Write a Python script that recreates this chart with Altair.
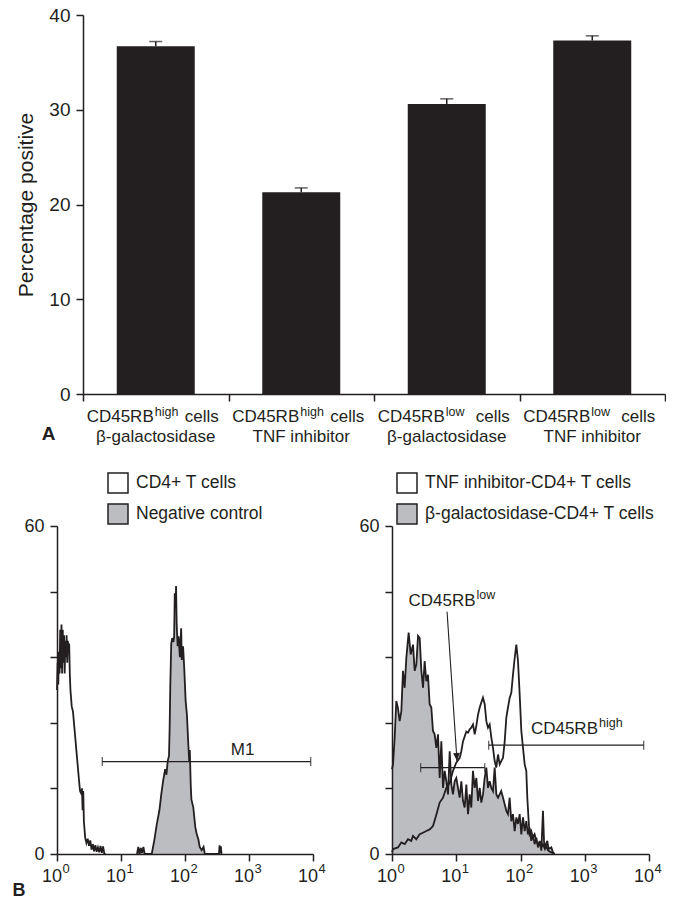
import altair as alt
import pandas as pd

FONT = "Liberation Sans"
INK = "#231f20"
GREY = "#bcbdc1"

# ---------------- Panel A data ----------------
cat_keys = ["hi_bgal", "hi_tnf", "lo_bgal", "lo_tnf"]
label_main = ["CD45RB", "CD45RB", "CD45RB", "CD45RB"]
label_sup = ["high", "high", "low", "low"]
label_tail = ["cells", "cells", "cells", "cells"]
label_treat = ["β-galactosidase", "TNF inhibitor", "β-galactosidase", "TNF inhibitor"]
pct_positive = [36.7, 21.3, 30.6, 37.3]
pct_sem = [0.5, 0.45, 0.55, 0.5]
a_ticks = [0, 10, 20, 30, 40]
a_title = "Percentage positive"

# ---------------- Panel B data ----------------
decades = [0, 1, 2, 3, 4]
dec_base = ["10", "10", "10", "10", "10"]
dec_exp = ["0", "1", "2", "3", "4"]
b_ticks = [0, 6, 12, 18, 24, 30, 36, 42, 48, 54, 60]

left_names = ["CD4+ T cells", "Negative control"]
left_white_x = [0.0, 0.01, 0.02, 0.03, 0.04, 0.05, 0.06, 0.07, 0.08, 0.09, 0.10, 0.11, 0.12,
                0.13, 0.14, 0.15, 0.16, 0.17, 0.18, 0.19, 0.20, 0.21, 0.23, 0.25, 0.28, 0.31,
                0.34, 0.36, 0.38, 0.39, 0.40, 0.41, 0.42, 0.44, 0.46, 0.48, 0.50, 0.52, 0.54,
                0.56, 0.58, 0.60, 0.62, 0.64, 0.66, 0.68, 0.70, 0.72, 0.74, 0.76]
left_white_y = [30, 35, 31, 37, 33, 41, 34, 42, 33, 41, 35, 40, 33,
                39, 36, 40, 35, 39, 37, 38.5, 33, 30, 27, 26, 22, 18,
                14, 11.5, 11, 12, 8, 11.5, 6, 3, 2, 2.8, 1.5, 2.5, 0.8,
                1.8, 0.5, 1.6, 0.4, 1.2, 0.3, 1.5, 0.2, 1.4, 0, 0]
left_grey_x = [1.25, 1.27, 1.29, 1.31, 1.33, 1.35, 1.37, 1.48, 1.52, 1.56, 1.60, 1.63, 1.66,
               1.69, 1.71, 1.73, 1.75, 1.76, 1.77, 1.785, 1.80, 1.82, 1.83, 1.84, 1.855, 1.86,
               1.87, 1.885, 1.90, 1.92, 1.94, 1.95, 1.97, 1.99, 2.01, 2.03, 2.05, 2.065, 2.075,
               2.09, 2.10, 2.13, 2.16, 2.18, 2.21, 2.23, 2.26, 2.29, 2.31, 2.53, 2.54, 2.55,
               2.56, 2.57]
left_grey_y = [0, 1.3, 0, 1.1, 0.2, 1.3, 0, 0, 2.5, 5.5, 8, 11, 13.5,
               15.5, 14.5, 17, 18, 23, 30.6, 38.5, 39.5, 38.8, 39.7, 47.7, 45, 49,
               42, 38, 39.8, 36, 41.3, 35.5, 38, 33.5, 28, 25.5, 20.5, 17, 19,
               12.5, 10, 8.5, 5, 3.8, 2.6, 1.3, 0.7, 1.3, 0, 0, 1.6, 0.2,
               1.4, 0]

right_names = ["TNF inhibitor-CD4+ T cells", "β-galactosidase-CD4+ T cells"]
right_white_x = [0.0, 0.016, 0.093, 0.145, 0.198, 0.249, 0.30, 0.327, 0.378, 0.431, 0.482, 0.534,
                 0.587, 0.638, 0.69, 0.742, 0.794, 0.845, 0.898, 0.949, 1.0, 1.054, 1.079, 1.105,
                 1.131, 1.157, 1.183, 1.209, 1.234, 1.261, 1.287, 1.312, 1.339, 1.365, 1.39, 1.416,
                 1.443, 1.468, 1.494, 1.52, 1.546, 1.572, 1.598, 1.623, 1.65, 1.676, 1.701, 1.728,
                 1.754, 1.779, 1.805, 1.832, 1.857, 1.883, 1.91, 1.935, 1.961, 1.987, 2.013, 2.039,
                 2.065, 2.09, 2.106, 2.127, 2.142, 2.168, 2.194, 2.22, 2.246, 2.272, 2.298, 2.324,
                 2.35, 2.38, 2.40, 2.43, 2.48, 2.53]
right_white_y = [0.3, 0.9, 1.2, 2.1, 1.8, 2.7, 2.4, 3.3, 2.7, 3.6, 3.9, 4.2,
                 4.5, 5.1, 7.2, 9.4, 10.3, 12.1, 13.0, 15.2, 16.7, 17.6, 18.8, 20.6,
                 21.5, 22.4, 22.2, 22.8, 23.1, 23.7, 21.9, 23.4, 25.5, 26.8, 27.7, 28.6,
                 27.4, 24.3, 23.1, 23.7, 21.3, 19.4, 17.0, 15.8, 18.2, 16.4, 17.0, 17.6,
                 20.6, 24.9, 26.8, 28.6, 29.5, 32.8, 35.9, 38.3, 35.3, 29.2, 22.5, 19.4,
                 16.4, 15.2, 10.3, 6.0, 3.6, 4.2, 3.0, 3.6, 2.4, 1.8, 2.1, 1.2,
                 1.8, 0.9, 1.5, 0.6, 0.3, 0]
right_grey_x = [0.0, 0.016, 0.041, 0.067, 0.093, 0.119, 0.145, 0.171, 0.197, 0.223, 0.259, 0.291,
                0.327, 0.353, 0.379, 0.405, 0.431, 0.457, 0.483, 0.508, 0.534, 0.56, 0.586, 0.612,
                0.638, 0.664, 0.69, 0.716, 0.742, 0.768, 0.794, 0.82, 0.846, 0.872, 0.898, 0.924,
                0.949, 0.975, 1.001, 1.027, 1.053, 1.079, 1.105, 1.131, 1.157, 1.183, 1.209, 1.234,
                1.26, 1.287, 1.313, 1.339, 1.365, 1.39, 1.416, 1.442, 1.468, 1.494, 1.52, 1.546,
                1.572, 1.598, 1.624, 1.65, 1.70, 1.728, 1.754, 1.78, 1.805, 1.831, 1.857, 1.883,
                1.909, 1.935, 1.961, 1.987, 2.013, 2.039, 2.065, 2.09, 2.116, 2.142, 2.168, 2.194,
                2.22, 2.246, 2.272, 2.298, 2.324, 2.35, 2.366, 2.386, 2.417, 2.438, 2.48, 2.505,
                2.531]
right_grey_y = [15.5, 16.4, 21.2, 28.0, 26.7, 24.3, 26.1, 33.5, 30.4, 35.9, 40.5, 36.5,
                38.3, 33.5, 34.7, 39.9, 39.5, 33.5, 30.4, 35.3, 31.6, 32.8, 27.4, 26.8,
                22.5, 21.9, 19.4, 21.9, 13.9, 20.6, 12.1, 15.2, 13.3, 10.9, 18.8, 12.7,
                10.9, 13.3, 13.9, 12.1, 10.3, 13.3, 9.7, 8.5, 12.7, 7.3, 10.9, 8.5,
                15.2, 12.1, 13.9, 9.7, 12.1, 9.4, 10.9, 13.9, 15.8, 12.1, 13.3, 12.1,
                11.5, 15.8, 10.9, 10.3, 11.5, 10.3, 9.1, 7.9, 7.3, 10.3, 6.0, 7.3,
                4.2, 6.7, 5.5, 7.3, 3.6, 6.7, 4.2, 6.0, 3.6, 4.8, 2.4, 3.6,
                1.8, 3.0, 1.2, 2.4, 0.6, 7.9, 2.4, 1.2, 2.4, 0.9, 1.2, 0.3,
                0]

# gates (log10 start, log10 end, height) and their labels
left_gate_x1 = [0.708]
left_gate_x2 = [3.964]
left_gate_y = [16.9]
left_gate_text = ["M1"]
left_gate_tx = [2.90]
left_gate_ty = [18.2]

right_gate_x1 = [0.446, 1.505]
right_gate_x2 = [1.443, 3.917]
right_gate_y = [15.8, 19.9]
right_lab_main = ["CD45RB", "CD45RB"]
right_lab_sup = ["low", "high"]
right_lab_x = [1.30, 3.206]
right_lab_y = [45.4, 21.9]
arrow_x1, arrow_y1, arrow_x2, arrow_y2 = [0.857], [44.3], [1.012], [17.0]

# ---------------- Panel A ----------------
dfA = pd.DataFrame({
    "cat": cat_keys, "main": label_main, "sup": label_sup, "tail": label_tail,
    "treat": label_treat, "value": pct_positive,
    "top": [v + e for v, e in zip(pct_positive, pct_sem)],
})

SHIFT = 26          # panel A is indented relative to panel B
A_W = 582
xA = alt.X("cat:N", sort=cat_keys, title=None,
           scale=alt.Scale(paddingInner=0, paddingOuter=0, range=[SHIFT, SHIFT + A_W]),
           axis=alt.Axis(labels=False, title=None, tickBand="extent", tickSize=7,
                         domainWidth=1.5, tickWidth=1.5))
axisYA = alt.Axis(values=a_ticks, tickSize=7, labelFontSize=19, labelPadding=6,
                  title=a_title, titleFontSize=21, titleFontWeight="normal", titlePadding=12,
                  domainWidth=1.5, tickWidth=1.5, offset=-SHIFT)
scaleYA = alt.Scale(domain=[0, 40], nice=False)


def YA(field):
    return alt.Y(field, type="quantitative", title=a_title, scale=scaleYA, axis=axisYA)


baseA = alt.Chart(dfA)
bars = baseA.mark_bar(color=INK, width={"band": 0.536}).encode(x=xA, y=YA("value"))
err = baseA.mark_rule(color=INK, strokeWidth=1.5).encode(x=xA, y=YA("value"), y2="top:Q")
cap = baseA.mark_tick(color=INK, thickness=1.5, size=13, orient="horizontal").encode(
    x=xA, y=YA("top"))
t_main = baseA.mark_text(align="right", baseline="alphabetic", dx=-2, dy=28, fontSize=17).encode(
    x=xA, y=alt.datum(0), text="main:N")
t_sup = baseA.mark_text(align="left", baseline="alphabetic", dx=-1, dy=22, fontSize=12.5).encode(
    x=xA, y=alt.datum(0), text="sup:N")
t_tail = baseA.mark_text(align="left", baseline="alphabetic", dx=29, dy=28, fontSize=17).encode(
    x=xA, y=alt.datum(0), text="tail:N")
t_treat = baseA.mark_text(align="center", baseline="alphabetic", dy=48, fontSize=17).encode(
    x=xA, y=alt.datum(0), text="treat:N")
t_A = alt.Chart(pd.DataFrame({"p": ["A"]})).mark_text(
    align="center", baseline="middle", fontSize=19, fontWeight="bold", dy=39.5).encode(
    x=alt.value(SHIFT - 34.5), y=alt.datum(0), text="p:N")

chartA = alt.layer(bars, err, cap, t_main, t_sup, t_tail, t_treat, t_A).properties(
    width=SHIFT + A_W, height=379)


# ---------------- Panel B ----------------
def X(field):
    return alt.X(field, type="quantitative", title=None,
                 scale=alt.Scale(domain=[0, 4], nice=False, zero=False),
                 axis=alt.Axis(values=decades, labels=False, tickSize=7, title=None,
                               domainWidth=1.5, tickWidth=1.5, zindex=1))


def Y(field):
    return alt.Y(field, type="quantitative", title=None, stack=None,
                 scale=alt.Scale(domain=[0, 60], nice=False),
                 axis=alt.Axis(values=b_ticks, tickSize=7, labelFontSize=18, labelPadding=6,
                               title=None, domainWidth=1.5, tickWidth=1.5, zindex=1,
                               labelExpr="datum.value % 30 === 0 ? datum.label : ''"))


def hist_panel(names, wx, wy, gx, gy, legend_x):
    dfw = pd.DataFrame({"lx": wx, "y": wy, "series": names[0]})
    dfg = pd.DataFrame({"lx": gx, "y": gy, "series": names[1]})
    df = pd.concat([dfw, dfg], ignore_index=True)
    a_white = alt.Chart(dfw).mark_area(color="white", opacity=1, interpolate="linear").encode(
        x=X("lx"), y=Y("y"))
    a_grey = alt.Chart(dfg).mark_area(color=GREY, opacity=1, interpolate="linear").encode(
        x=X("lx"), y=Y("y"))
    lines = alt.Chart(df).mark_line(color=INK, strokeWidth=1.8).encode(
        x=X("lx"), y=Y("y"), detail="series:N", order="lx:Q")
    # legend carrier: the swatches are drawn by the legend itself
    leg_df = pd.DataFrame({"series": names, "lx": [0, 0], "y": [0, 0]})
    leg = alt.Chart(leg_df).mark_square(size=1).encode(
        x=X("lx"), y=Y("y"),
        fill=alt.Fill("series:N",
                      scale=alt.Scale(domain=names, range=["white", GREY]),
                      legend=alt.Legend(title=None, orient="none", legendX=legend_x, legendY=-54,
                                        symbolType="square", symbolSize=400,
                                        symbolStrokeColor=INK, symbolStrokeWidth=1.5,
                                        symbolOpacity=1, labelFontSize=17.5, labelFont=FONT,
                                        labelColor=INK, labelOffset=7, rowPadding=5,
                                        padding=0, labelLimit=400)))
    dec = pd.DataFrame({"dec": decades, "base": dec_base, "exp": dec_exp})
    ten = alt.Chart(dec).mark_text(align="right", baseline="alphabetic", dx=5, dy=28,
                                   fontSize=18).encode(x=X("dec"), y=alt.datum(0), text="base:N")
    ex = alt.Chart(dec).mark_text(align="left", baseline="alphabetic", dx=5.5, dy=19,
                                  fontSize=13).encode(x=X("dec"), y=alt.datum(0), text="exp:N")
    return [leg, a_white, a_grey, lines, ten, ex]


def gate_layers(x1, x2, y):
    g = alt.Chart(pd.DataFrame({"x1": x1, "x2": x2, "y": y}))
    rule = g.mark_rule(color=INK, strokeWidth=1.3).encode(x=X("x1"), x2="x2:Q", y=Y("y"))
    c1 = g.mark_tick(color=INK, thickness=1.3, size=9, orient="vertical").encode(x=X("x1"), y=Y("y"))
    c2 = g.mark_tick(color=INK, thickness=1.3, size=9, orient="vertical").encode(x=X("x2"), y=Y("y"))
    return [rule, c1, c2]


# left panel
left_layers = hist_panel(left_names, left_white_x, left_white_y, left_grey_x, left_grey_y, 50)
left_layers += gate_layers(left_gate_x1, left_gate_x2, left_gate_y)
left_layers.append(alt.Chart(pd.DataFrame({"tx": left_gate_tx, "ty": left_gate_ty, "t": left_gate_text}))
                   .mark_text(align="center", baseline="alphabetic", fontSize=17)
                   .encode(x=X("tx"), y=Y("ty"), text="t:N"))
left_layers.append(alt.Chart(pd.DataFrame({"p": ["B"]})).mark_text(
    align="center", baseline="middle", fontSize=18, fontWeight="bold", dy=37).encode(
    x=alt.value(-38), y=alt.datum(0), text="p:N"))
chartL = alt.layer(*left_layers).properties(width=256, height=328)

# right panel
right_layers = hist_panel(right_names, right_white_x, right_white_y, right_grey_x, right_grey_y, 4)
right_layers += gate_layers(right_gate_x1, right_gate_x2, right_gate_y)
lab = alt.Chart(pd.DataFrame({"tx": right_lab_x, "ty": right_lab_y,
                              "m": right_lab_main, "s": right_lab_sup}))
right_layers.append(lab.mark_text(align="right", baseline="alphabetic", fontSize=17)
                    .encode(x=X("tx"), y=Y("ty"), text="m:N"))
right_layers.append(lab.mark_text(align="left", baseline="alphabetic", fontSize=12.5, dx=1, dy=-7)
                    .encode(x=X("tx"), y=Y("ty"), text="s:N"))
arr = alt.Chart(pd.DataFrame({"x1": arrow_x1, "y1": arrow_y1, "x2": arrow_x2, "y2": arrow_y2}))
right_layers.append(arr.mark_rule(color=INK, strokeWidth=1.1).encode(
    x=X("x1"), y=Y("y1"), x2="x2:Q", y2="y2:Q"))
right_layers.append(arr.mark_point(shape="M-0.42,-1L0.42,-1L0,0Z", filled=True, size=256,
                                   angle=356, color=INK, opacity=1).encode(x=X("x2"), y=Y("y2")))
chartR = alt.layer(*right_layers).properties(width=257, height=328)

bottom = alt.hconcat(chartL, chartR, spacing=32).resolve_scale(
    fill="independent").resolve_legend(fill="independent")

chart = alt.vconcat(chartA, bottom, spacing=27).properties(
    padding={"left": 12, "top": 6, "right": 0, "bottom": 0}
).configure_view(stroke=None).configure_axis(
    labelFont=FONT, titleFont=FONT, domainColor=INK, tickColor=INK, labelColor=INK,
    titleColor=INK, grid=False
).configure_text(font=FONT, color=INK)

chart.save("out.html", embed_options={"renderer": "svg", "actions": False})
